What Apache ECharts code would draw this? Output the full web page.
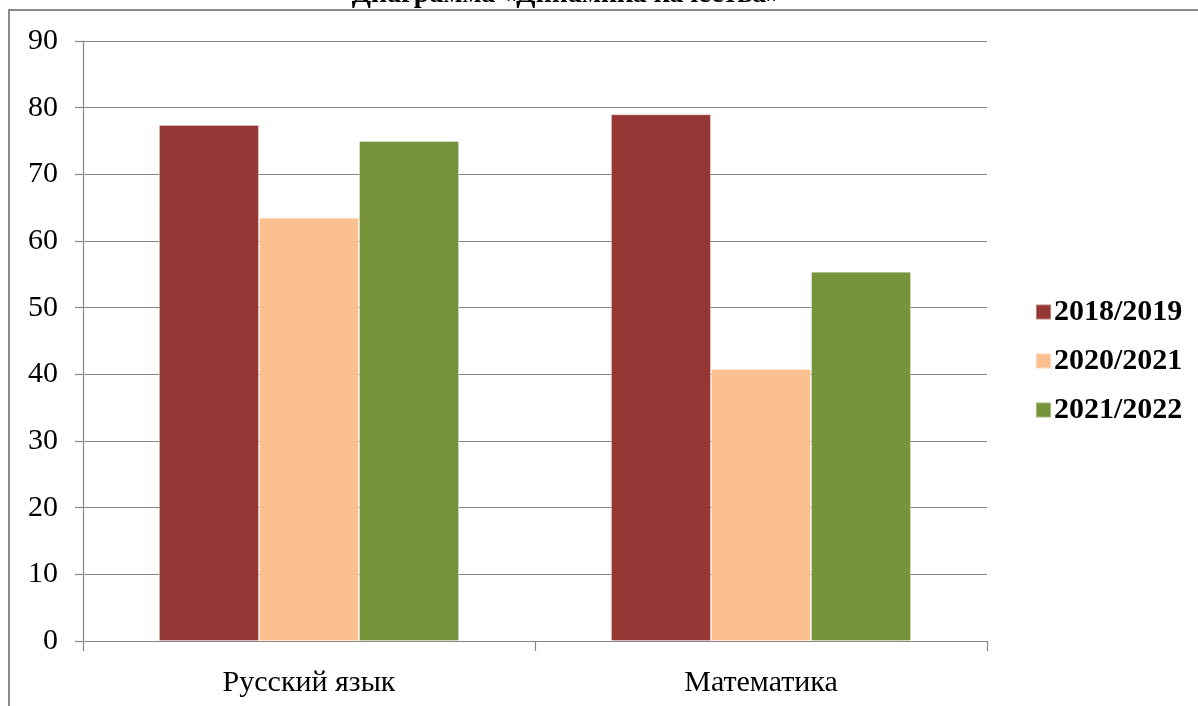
<!DOCTYPE html>
<html><head><meta charset="utf-8">
<script src="https://cdn.jsdelivr.net/npm/echarts@6/dist/echarts.min.js"></script>
<style>html,body{margin:0;padding:0;background:#fff}#c{width:1198px;height:706px}</style>
</head><body><div id="c"></div>
<script>
const categories = ['Русский язык', 'Математика'];
const seriesNames = ['2018/2019', '2020/2021', '2021/2022'];
const values2018 = [77.4, 79];
const values2020 = [63.5, 40.8];
const values2021 = [75, 55.4];
const yTicks = [0, 10, 20, 30, 40, 50, 60, 70, 80, 90];
const titleText = 'Диаграмма «Динамика качества»';

const colors = ['#953735', '#FAC090', '#77933C'];
const serif = '"Liberation Serif", "Times New Roman", serif';
const chart = echarts.init(document.getElementById('c'));
const data = [values2018, values2020, values2021];
chart.setOption({
  animation: false,
  graphic: [
    { type: 'rect', shape: { x: 9, y: 10, width: 1300, height: 800 }, style: { fill: 'none', stroke: '#8a8a8a', lineWidth: 2 } },
    { type: 'text', x: 566, y: 9, style: { text: titleText, align: 'center', verticalAlign: 'bottom', font: 'bold 28px ' + serif, fill: '#000' } }
  ],
  grid: { left: 83, right: 211, top: 41, bottom: 65 },
  legend: {
    orient: 'vertical', left: 1030, top: 292, itemWidth: 15, itemHeight: 15, itemGap: 19,
    icon: 'rect',
    textStyle: { fontFamily: serif, fontWeight: 'bold', fontSize: 30, color: '#000', padding: [0, 0, 0, -2] },
    data: seriesNames
  },
  xAxis: {
    type: 'category', data: categories,
    axisLine: { lineStyle: { color: '#878787', width: 1.2 } },
    axisTick: { show: true, length: 10, lineStyle: { color: '#878787', width: 1.2 } },
    axisLabel: { fontFamily: serif, fontSize: 30, color: '#000', margin: 27 }
  },
  yAxis: {
    type: 'value', min: yTicks[0], max: yTicks[yTicks.length - 1], interval: 10,
    axisLine: { show: true, lineStyle: { color: '#878787', width: 1.2 } },
    axisTick: { show: true, length: 8, lineStyle: { color: '#878787', width: 1.2 } },
    axisLabel: { fontFamily: serif, fontSize: 30, color: '#000', margin: 25 },
    splitLine: { lineStyle: { color: '#878787', width: 1.2 } }
  },
  series: seriesNames.map((n, i) => ({
    name: n, type: 'bar', data: data[i], barGap: '0%', barCategoryGap: '33.6%',
    itemStyle: { color: colors[i], borderColor: 'rgba(255,255,255,0.35)', borderWidth: 1 }
  }))
});
</script></body></html>
